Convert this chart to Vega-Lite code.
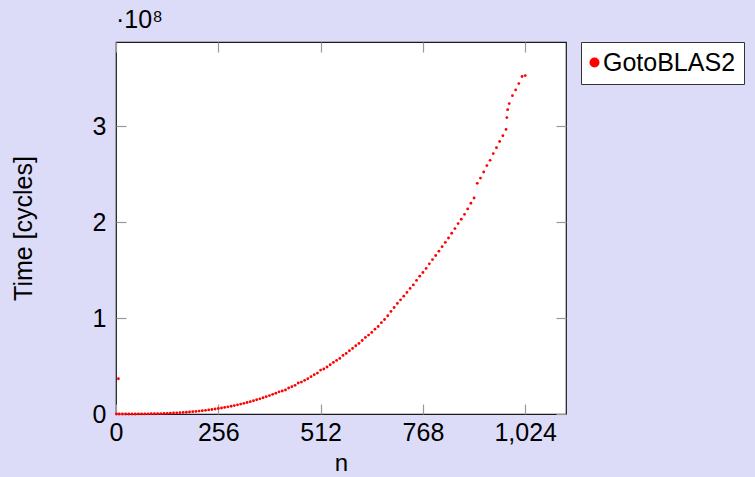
{
  "$schema": "https://vega.github.io/schema/vega-lite/v6.json",
  "width": 450,
  "height": 372,
  "autosize": {"type": "none"},
  "padding": {"left": 116, "top": 42, "right": 189, "bottom": 63},
  "background": "#dcdcf9",
  "title": {"text": "·10⁸", "anchor": "start", "frame": "group", "fontSize": 25, "font": "Liberation Sans", "fontWeight": "normal", "color": "#000000", "offset": 8},
  "data": {
    "values": [
      {"n": 1, "cycles": 500, "series": "GotoBLAS2"},
      {"n": 6, "cycles": 36800000, "series": "GotoBLAS2"},
      {"n": 8, "cycles": 174, "series": "GotoBLAS2"},
      {"n": 16, "cycles": 1393, "series": "GotoBLAS2"},
      {"n": 24, "cycles": 4700, "series": "GotoBLAS2"},
      {"n": 32, "cycles": 11141, "series": "GotoBLAS2"},
      {"n": 40, "cycles": 21760, "series": "GotoBLAS2"},
      {"n": 48, "cycles": 37601, "series": "GotoBLAS2"},
      {"n": 56, "cycles": 59709, "series": "GotoBLAS2"},
      {"n": 64, "cycles": 89129, "series": "GotoBLAS2"},
      {"n": 72, "cycles": 126904, "series": "GotoBLAS2"},
      {"n": 80, "cycles": 174080, "series": "GotoBLAS2"},
      {"n": 88, "cycles": 231700, "series": "GotoBLAS2"},
      {"n": 96, "cycles": 300810, "series": "GotoBLAS2"},
      {"n": 104, "cycles": 382454, "series": "GotoBLAS2"},
      {"n": 112, "cycles": 477676, "series": "GotoBLAS2"},
      {"n": 120, "cycles": 587520, "series": "GotoBLAS2"},
      {"n": 128, "cycles": 713032, "series": "GotoBLAS2"},
      {"n": 136, "cycles": 855255, "series": "GotoBLAS2"},
      {"n": 144, "cycles": 1015235, "series": "GotoBLAS2"},
      {"n": 152, "cycles": 1194015, "series": "GotoBLAS2"},
      {"n": 160, "cycles": 1392640, "series": "GotoBLAS2"},
      {"n": 168, "cycles": 1612155, "series": "GotoBLAS2"},
      {"n": 176, "cycles": 1853604, "series": "GotoBLAS2"},
      {"n": 184, "cycles": 2118031, "series": "GotoBLAS2"},
      {"n": 192, "cycles": 2406482, "series": "GotoBLAS2"},
      {"n": 200, "cycles": 2720000, "series": "GotoBLAS2"},
      {"n": 208, "cycles": 3059630, "series": "GotoBLAS2"},
      {"n": 216, "cycles": 3426417, "series": "GotoBLAS2"},
      {"n": 224, "cycles": 3821404, "series": "GotoBLAS2"},
      {"n": 232, "cycles": 4245637, "series": "GotoBLAS2"},
      {"n": 240, "cycles": 4700160, "series": "GotoBLAS2"},
      {"n": 248, "cycles": 5186017, "series": "GotoBLAS2"},
      {"n": 256, "cycles": 5704253, "series": "GotoBLAS2"},
      {"n": 264, "cycles": 6255913, "series": "GotoBLAS2"},
      {"n": 272, "cycles": 6842040, "series": "GotoBLAS2"},
      {"n": 280, "cycles": 7463680, "series": "GotoBLAS2"},
      {"n": 288, "cycles": 8121876, "series": "GotoBLAS2"},
      {"n": 296, "cycles": 8817674, "series": "GotoBLAS2"},
      {"n": 304, "cycles": 9552118, "series": "GotoBLAS2"},
      {"n": 312, "cycles": 10326252, "series": "GotoBLAS2"},
      {"n": 320, "cycles": 11141120, "series": "GotoBLAS2"},
      {"n": 328, "cycles": 11997768, "series": "GotoBLAS2"},
      {"n": 336, "cycles": 12897239, "series": "GotoBLAS2"},
      {"n": 344, "cycles": 13840579, "series": "GotoBLAS2"},
      {"n": 352, "cycles": 14828831, "series": "GotoBLAS2"},
      {"n": 360, "cycles": 15863040, "series": "GotoBLAS2"},
      {"n": 368, "cycles": 16944251, "series": "GotoBLAS2"},
      {"n": 376, "cycles": 18073508, "series": "GotoBLAS2"},
      {"n": 384, "cycles": 19251855, "series": "GotoBLAS2"},
      {"n": 392, "cycles": 20480338, "series": "GotoBLAS2"},
      {"n": 400, "cycles": 21760000, "series": "GotoBLAS2"},
      {"n": 408, "cycles": 23091886, "series": "GotoBLAS2"},
      {"n": 416, "cycles": 23960000, "series": "GotoBLAS2"},
      {"n": 424, "cycles": 25000000, "series": "GotoBLAS2"},
      {"n": 432, "cycles": 27100000, "series": "GotoBLAS2"},
      {"n": 440, "cycles": 28500000, "series": "GotoBLAS2"},
      {"n": 448, "cycles": 29900000, "series": "GotoBLAS2"},
      {"n": 456, "cycles": 32300000, "series": "GotoBLAS2"},
      {"n": 464, "cycles": 33300000, "series": "GotoBLAS2"},
      {"n": 472, "cycles": 35100000, "series": "GotoBLAS2"},
      {"n": 480, "cycles": 36800000, "series": "GotoBLAS2"},
      {"n": 488, "cycles": 38900000, "series": "GotoBLAS2"},
      {"n": 496, "cycles": 41000000, "series": "GotoBLAS2"},
      {"n": 504, "cycles": 42700000, "series": "GotoBLAS2"},
      {"n": 512, "cycles": 45800000, "series": "GotoBLAS2"},
      {"n": 520, "cycles": 46900000, "series": "GotoBLAS2"},
      {"n": 528, "cycles": 49000000, "series": "GotoBLAS2"},
      {"n": 536, "cycles": 51400000, "series": "GotoBLAS2"},
      {"n": 544, "cycles": 53800000, "series": "GotoBLAS2"},
      {"n": 552, "cycles": 55900000, "series": "GotoBLAS2"},
      {"n": 560, "cycles": 58000000, "series": "GotoBLAS2"},
      {"n": 568, "cycles": 61100000, "series": "GotoBLAS2"},
      {"n": 576, "cycles": 63200000, "series": "GotoBLAS2"},
      {"n": 584, "cycles": 66000000, "series": "GotoBLAS2"},
      {"n": 592, "cycles": 68400000, "series": "GotoBLAS2"},
      {"n": 600, "cycles": 71200000, "series": "GotoBLAS2"},
      {"n": 608, "cycles": 73600000, "series": "GotoBLAS2"},
      {"n": 616, "cycles": 76700000, "series": "GotoBLAS2"},
      {"n": 624, "cycles": 79900000, "series": "GotoBLAS2"},
      {"n": 632, "cycles": 82300000, "series": "GotoBLAS2"},
      {"n": 640, "cycles": 85100000, "series": "GotoBLAS2"},
      {"n": 648, "cycles": 88500000, "series": "GotoBLAS2"},
      {"n": 656, "cycles": 91300000, "series": "GotoBLAS2"},
      {"n": 664, "cycles": 95300000, "series": "GotoBLAS2"},
      {"n": 672, "cycles": 98600000, "series": "GotoBLAS2"},
      {"n": 680, "cycles": 102500000, "series": "GotoBLAS2"},
      {"n": 688, "cycles": 107000000, "series": "GotoBLAS2"},
      {"n": 696, "cycles": 111100000, "series": "GotoBLAS2"},
      {"n": 704, "cycles": 115300000, "series": "GotoBLAS2"},
      {"n": 712, "cycles": 119100000, "series": "GotoBLAS2"},
      {"n": 720, "cycles": 122900000, "series": "GotoBLAS2"},
      {"n": 728, "cycles": 126800000, "series": "GotoBLAS2"},
      {"n": 736, "cycles": 131000000, "series": "GotoBLAS2"},
      {"n": 744, "cycles": 134600000, "series": "GotoBLAS2"},
      {"n": 752, "cycles": 139300000, "series": "GotoBLAS2"},
      {"n": 760, "cycles": 143800000, "series": "GotoBLAS2"},
      {"n": 768, "cycles": 147600000, "series": "GotoBLAS2"},
      {"n": 776, "cycles": 151800000, "series": "GotoBLAS2"},
      {"n": 784, "cycles": 156600000, "series": "GotoBLAS2"},
      {"n": 792, "cycles": 161100000, "series": "GotoBLAS2"},
      {"n": 800, "cycles": 165300000, "series": "GotoBLAS2"},
      {"n": 808, "cycles": 169800000, "series": "GotoBLAS2"},
      {"n": 816, "cycles": 174500000, "series": "GotoBLAS2"},
      {"n": 824, "cycles": 179000000, "series": "GotoBLAS2"},
      {"n": 832, "cycles": 183600000, "series": "GotoBLAS2"},
      {"n": 840, "cycles": 188500000, "series": "GotoBLAS2"},
      {"n": 848, "cycles": 193400000, "series": "GotoBLAS2"},
      {"n": 856, "cycles": 198600000, "series": "GotoBLAS2"},
      {"n": 864, "cycles": 203100000, "series": "GotoBLAS2"},
      {"n": 872, "cycles": 208300000, "series": "GotoBLAS2"},
      {"n": 880, "cycles": 213900000, "series": "GotoBLAS2"},
      {"n": 888, "cycles": 219800000, "series": "GotoBLAS2"},
      {"n": 896, "cycles": 225300000, "series": "GotoBLAS2"},
      {"n": 904, "cycles": 240600000, "series": "GotoBLAS2"},
      {"n": 912, "cycles": 246100000, "series": "GotoBLAS2"},
      {"n": 920, "cycles": 252400000, "series": "GotoBLAS2"},
      {"n": 928, "cycles": 259100000, "series": "GotoBLAS2"},
      {"n": 936, "cycles": 264600000, "series": "GotoBLAS2"},
      {"n": 944, "cycles": 271600000, "series": "GotoBLAS2"},
      {"n": 952, "cycles": 277800000, "series": "GotoBLAS2"},
      {"n": 960, "cycles": 284200000, "series": "GotoBLAS2"},
      {"n": 968, "cycles": 290300000, "series": "GotoBLAS2"},
      {"n": 976, "cycles": 296800000, "series": "GotoBLAS2"},
      {"n": 978, "cycles": 309200000, "series": "GotoBLAS2"},
      {"n": 980, "cycles": 317400000, "series": "GotoBLAS2"},
      {"n": 984, "cycles": 323800000, "series": "GotoBLAS2"},
      {"n": 992, "cycles": 332000000, "series": "GotoBLAS2"},
      {"n": 1000, "cycles": 338000000, "series": "GotoBLAS2"},
      {"n": 1008, "cycles": 344600000, "series": "GotoBLAS2"},
      {"n": 1016, "cycles": 352000000, "series": "GotoBLAS2"},
      {"n": 1024, "cycles": 353000000, "series": "GotoBLAS2"}
    ]
  },
  "layer": [
    {
      "mark": {"type": "point", "filled": true, "shape": "circle", "size": 8, "opacity": 1},
      "encoding": {
        "x": {
          "field": "n", "type": "quantitative",
          "scale": {"domain": [0, 1126], "nice": false, "zero": false},
          "axis": {"orient": "bottom", "values": [0, 256, 512, 768, 1024], "format": ",d", "labelFlush": false, "labelPadding": 16, "title": "n", "titleFont": "Liberation Mono", "titleFontSize": 24, "titlePadding": 6}
        },
        "y": {
          "field": "cycles", "type": "quantitative",
          "scale": {"domain": [0, 388000000], "nice": false},
          "axis": {"orient": "left", "values": [0, 100000000, 200000000, 300000000], "labelExpr": "format(datum.value / 100000000, 'd')", "labelPadding": 20, "title": "Time [cycles]", "titlePadding": 56}
        },
        "color": {
          "field": "series", "type": "nominal",
          "scale": {"domain": ["GotoBLAS2"], "range": ["#ff0000"]},
          "legend": {"title": null, "symbolSize": 100, "symbolType": "circle", "symbolOffset": -7, "labelOffset": -4}
        }
      }
    },
    {
      "mark": {"type": "point", "opacity": 0},
      "encoding": {
        "x": {
          "field": "n", "type": "quantitative",
          "axis": {"orient": "top", "values": [0, 256, 512, 768, 1024], "labels": false, "title": null}
        },
        "y": {
          "field": "cycles", "type": "quantitative",
          "axis": {"orient": "right", "values": [0, 100000000, 200000000, 300000000], "labels": false, "title": null}
        }
      }
    }
  ],
  "resolve": {"axis": {"x": "independent", "y": "independent"}},
  "config": {
    "font": "Liberation Sans",
    "view": {"stroke": "#1a1a1a", "strokeWidth": 1.2, "fill": "#ffffff"},
    "axis": {
      "domain": false, "grid": false,
      "labelFont": "Liberation Sans", "labelFontSize": 25, "labelColor": "#000000",
      "tickColor": "#999999", "tickWidth": 1.2, "tickSize": -10,
      "titleFont": "Liberation Sans", "titleFontSize": 25, "titleFontWeight": "normal", "titleColor": "#000000"
    },
    "legend": {
      "orient": "right", "offset": 14, "padding": 8,
      "strokeColor": "#333333", "fillColor": "#ffffff",
      "symbolStrokeWidth": 0,
      "labelFont": "Liberation Sans", "labelFontSize": 25, "labelColor": "#000000", "labelLimit": 300
    }
  }
}
